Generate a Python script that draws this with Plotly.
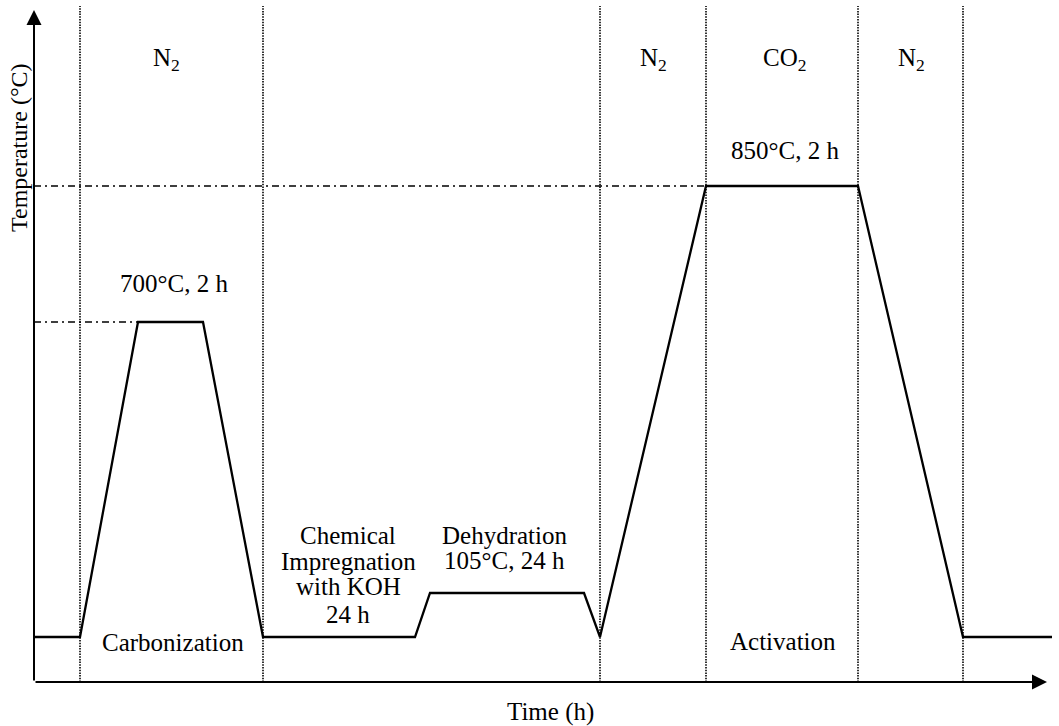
import plotly.graph_objects as go

# Schematic heating profile (arbitrary schematic units)
time_pts = [0, 4.6, 10.4, 16.9, 22.9, 38.1, 39.6, 55.0, 56.6, 67.2, 82.4, 92.9, 101.8]
temp_pts = [4.5, 4.5, 36.0, 36.0, 4.5, 4.5, 8.9, 8.9, 4.5, 49.6, 49.6, 4.5, 4.5]

# Zone boundaries (dotted verticals)
zone_edges = [4.6, 22.9, 56.6, 67.2, 82.4, 92.9]
zone_top = 67.6

# Reference levels (dash-dot)
ref_levels = [49.6, 36.0]
ref_ends = [67.2, 10.4]

# Atmosphere labels
atm_labels = ["N<sub>2</sub>", "N<sub>2</sub>", "CO<sub>2</sub>", "N<sub>2</sub>"]
atm_x = [13.2, 61.9, 75.0, 87.7]
atm_y = 62.3

# Step labels (one entry per text line)
step_lines = ["700°C, 2 h", "850°C, 2 h", "Carbonization", "Activation",
              "Chemical", "Impregnation", "with KOH", "24 h",
              "Dehydration", "105°C, 24 h"]
step_x = [14.0, 75.1, 13.9, 74.9, 31.4, 31.4, 31.4, 31.4, 47.0, 47.0]
step_y = [39.9, 53.2, 4.0, 4.1, 14.7, 12.1, 9.6, 6.8, 14.7, 12.2]

x_title = "Time (h)"
y_title = "Temperature (°C)"

FONT = "Liberation Serif, Times New Roman, serif"
FS = 25

fig = go.Figure()

# dotted zone lines
zx, zy = [], []
for e in zone_edges:
    zx += [e, e, None]
    zy += [0, zone_top, None]
fig.add_trace(go.Scatter(x=zx, y=zy, mode="lines",
                         line=dict(color="black", width=1.6, dash="1.5px,1.2px"),
                         hoverinfo="skip", showlegend=False))

# dash-dot reference lines
rx, ry = [], []
for lv, en in zip(ref_levels, ref_ends):
    rx += [0, en, None]
    ry += [lv, lv, None]
fig.add_trace(go.Scatter(x=rx, y=ry, mode="lines",
                         line=dict(color="black", width=1.6, dash="7px,4px,2px,4px"),
                         hoverinfo="skip", showlegend=False))

# profile
fig.add_trace(go.Scatter(x=time_pts, y=temp_pts, mode="lines",
                         line=dict(color="black", width=2.3),
                         hoverinfo="skip", showlegend=False))

annotations = []
# axes with arrows
annotations.append(dict(x=0, y=67.2, ax=0, ay=0, xref="x", yref="y", axref="x", ayref="y",
                        showarrow=True, arrowhead=2, arrowsize=1.5, arrowwidth=2,
                        arrowcolor="black", text="", standoff=0))
annotations.append(dict(x=101.3, y=0, ax=0, ay=0, xref="x", yref="y", axref="x", ayref="y",
                        showarrow=True, arrowhead=2, arrowsize=1.5, arrowwidth=2,
                        arrowcolor="black", text="", standoff=0))

for t, x in zip(atm_labels, atm_x):
    annotations.append(dict(x=x, y=atm_y, xref="x", yref="y", text=t, showarrow=False,
                            font=dict(family=FONT, size=FS, color="black")))
for t, x, y in zip(step_lines, step_x, step_y):
    annotations.append(dict(x=x, y=y, xref="x", yref="y", text=t, showarrow=False,
                            font=dict(family=FONT, size=FS, color="black")))

annotations.append(dict(x=51.6, y=0, xref="x", yref="paper", yshift=-30, yanchor="middle",
                        xanchor="center", text=x_title, showarrow=False,
                        font=dict(family=FONT, size=FS, color="black")))
annotations.append(dict(x=0, y=53.4, xref="paper", yref="y", xshift=-15, xanchor="center",
                        yanchor="middle", text=y_title, showarrow=False, textangle=-90,
                        font=dict(family=FONT, size=24, color="black")))

fig.update_layout(
    width=1059, height=726,
    margin=dict(l=34, r=0, t=0, b=44),
    paper_bgcolor="white", plot_bgcolor="white",
    xaxis=dict(range=[0, 102.5], visible=False, fixedrange=True),
    yaxis=dict(range=[0, 68.2], visible=False, fixedrange=True),
    annotations=annotations,
    showlegend=False,
)

fig.write_html("out.html", config={"displayModeBar": False},
               post_script="document.body.style.margin='0';")
